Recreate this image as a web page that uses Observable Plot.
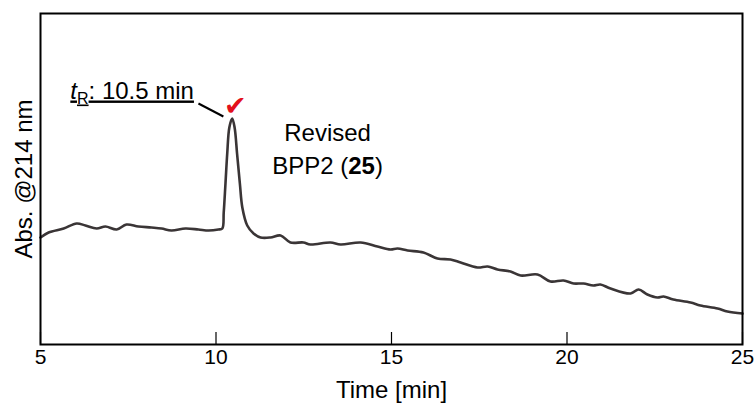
<!DOCTYPE html>
<html><head><meta charset="utf-8">
<script src="https://cdn.jsdelivr.net/npm/d3@7"></script>
<script src="https://cdn.jsdelivr.net/npm/@observablehq/plot@0.6"></script>
<style>body{margin:0;background:#fff}</style>
</head><body><div id="chart"></div>
<script>
// Chromatogram trace (time in min, absorbance in arbitrary units)
const time = [5.00,5.23,5.66,6.03,6.28,6.60,6.85,7.17,7.45,7.79,8.16,8.45,8.73,9.13,9.50,9.79,10.07,10.18,10.22,10.27,10.32,10.38,10.46,10.53,10.60,10.68,10.75,10.89,11.07,11.27,11.55,11.84,12.12,12.49,12.69,13.26,13.55,14.12,14.60,14.97,15.17,15.46,15.91,16.31,16.68,16.97,17.45,17.74,18.02,18.39,18.68,19.16,19.53,19.90,20.19,20.47,20.75,20.95,21.24,21.81,22.04,22.29,22.58,22.75,23.03,23.52,23.80,24.29,24.57,25.00];
const absorbance = [107,112,116,121,119,116,118,115,120,118,117,116,114,116,115,114,115,116,132,161,191,217,226,217,191,161,137,119,111,107,107,109,102,102,100,102,100,102,98,95,96,94,92,86,85,82,77,78,75,73,69,70,63,64,61,61,59,60,56,51,55,50,47,48,45,42,39,36,33,31];
const xTicks = [5, 10, 15, 20, 25];
const xLabel = "Time [min]";
const yLabel = "Abs. @214 nm";
// annotations
const peakLabel = "tR: 10.5 min";
const peakLabelPos = {t: 5.85, v: 246};
const leader = {t1: 9.50, v1: 241, t2: 10.21, v2: 228};
const checkPos = {t: 10.55, v: 238};
const compoundLines = ["Revised", "BPP2 (25)"];
const compoundPos = {t: 13.18, v: [204, 171]};

const font = "'Liberation Sans', Arial, Helvetica, sans-serif";
const plot = Plot.plot({
  width: 755, height: 403,
  marginLeft: 40, marginRight: 13, marginTop: 13, marginBottom: 59,
  style: {fontFamily: font, fontSize: "21px", background: "#fff", color: "#000"},
  x: {domain: [5, 25]},
  y: {domain: [0, 331], axis: null},
  marks: [
    Plot.axisX({ticks: xTicks, tickSize: 0, tickPadding: 5, label: null, fontSize: 21, tickFormat: d => String(d)}),
    Plot.tickX(xTicks, {x: d => d, insetTop: 319, stroke: "#000", strokeWidth: 1.2}),
    Plot.line(time, {x: time, y: absorbance, stroke: "#3a3536", strokeWidth: 2.6, curve: "catmull-rom"}),
    Plot.frame({stroke: "#000", strokeWidth: 2}),
    Plot.text([xLabel], {frameAnchor: "bottom", dy: 53, lineAnchor: "bottom", textAnchor: "middle", fontSize: 24, text: d => d}),
    Plot.text([yLabel], {frameAnchor: "left", dx: -9, rotate: -90, lineAnchor: "bottom", textAnchor: "middle", fontSize: 24, text: d => d}),
    Plot.text([peakLabel], {x: peakLabelPos.t, y: peakLabelPos.v, textAnchor: "start", lineAnchor: "bottom", fontSize: 24, text: d => d}),
    Plot.link([leader], {x1: "t1", y1: "v1", x2: "t2", y2: "v2", stroke: "#000", strokeWidth: 2}),
    Plot.text(["✔"], {x: checkPos.t, y: checkPos.v, fill: "#e3101c", fontSize: 27, fontFamily: "DejaVu Sans", lineAnchor: "middle", text: d => d}),
    Plot.text(compoundLines, {x: compoundPos.t, y: (d, i) => compoundPos.v[i], lineAnchor: "bottom", fontSize: 24, text: d => d})
  ]
});
document.getElementById("chart").appendChild(plot);

const svg = d3.select(plot);
svg.selectAll("text").filter(function(){ return this.textContent === peakLabel; }).each(function(){
  const t = d3.select(this).text(null).style("text-decoration", "underline");
  t.append("tspan").style("font-style", "italic").text("t");
  t.append("tspan").attr("dy", 5).style("font-size", "16px").text("R");
  t.append("tspan").attr("dy", -5).text(": 10.5 min");
});
svg.selectAll("text").filter(function(){ return this.textContent === "BPP2 (25)"; }).each(function(){
  const t = d3.select(this).text(null);
  t.append("tspan").text("BPP2 (");
  t.append("tspan").style("font-weight", "bold").text("25");
  t.append("tspan").text(")");
});
</script>
</body></html>
